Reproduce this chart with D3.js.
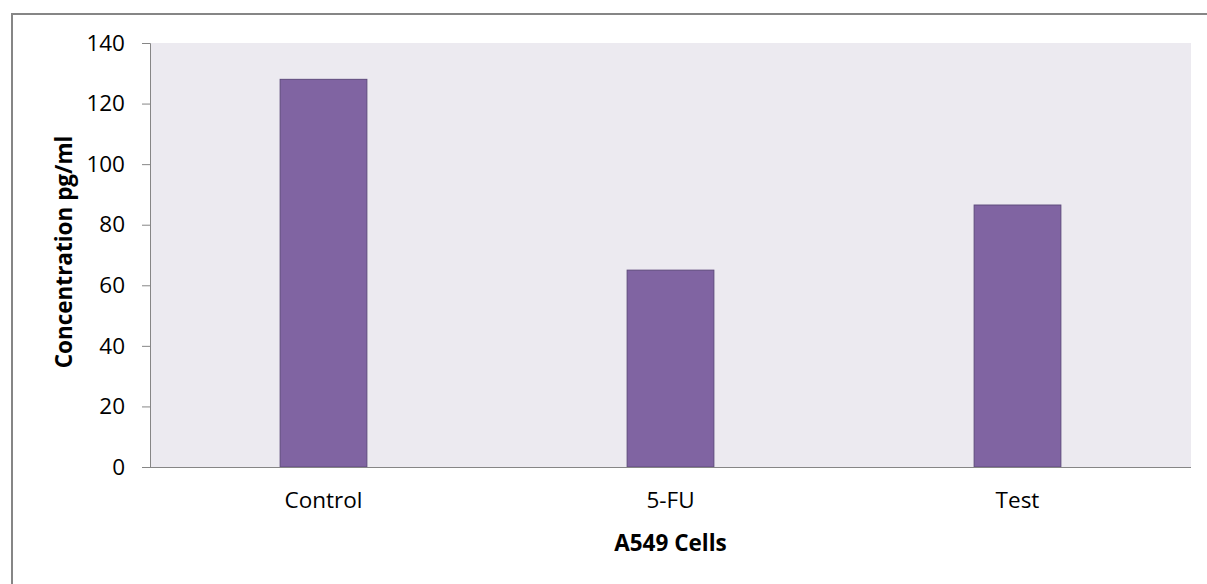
<!DOCTYPE html>
<html>
<head>
<meta charset="utf-8">
<script src="https://cdn.jsdelivr.net/npm/d3@7"></script>
<style>
  html, body { margin: 0; padding: 0; background: #fff; }
  svg { display: block; }
  text { font-family: "Open Sans", "Liberation Sans", sans-serif; fill: #000; }
</style>
</head>
<body>
<svg id="chart" width="1207" height="584"></svg>
<script>
// IL level in A549 cells per treatment group
const categories = ["Control", "5-FU", "Test"];
const concentrations = [128, 65, 86.5];
const yTicks = [0, 20, 40, 60, 80, 100, 120, 140];

const svg = d3.select("#chart");
const W = 1207, H = 584;
const plot = { left: 150, top: 43, right: 1191, bottom: 467 };
const tickFont = 22.5;
const titleFont = 22.5;

// Outer chart frame (extends past the right and bottom edges)
svg.append("rect")
  .attr("x", 12).attr("y", 14)
  .attr("width", W).attr("height", H)
  .attr("fill", "#fff")
  .attr("stroke", "#868686").attr("stroke-width", 2);

const x = d3.scaleBand()
  .domain(categories)
  .range([plot.left, plot.right])
  .paddingInner(0.75).paddingOuter(0.375);

const y = d3.scaleLinear()
  .domain([0, 140])
  .range([plot.bottom, plot.top]);

// Plot area background
svg.append("rect")
  .attr("x", plot.left).attr("y", plot.top)
  .attr("width", plot.right - plot.left).attr("height", plot.bottom - plot.top)
  .attr("fill", "#ECEAF0");

// Bars
svg.append("g").selectAll("rect")
  .data(categories.map((c, i) => ({ c, v: concentrations[i] })))
  .join("rect")
  .attr("x", d => x(d.c))
  .attr("y", d => y(d.v))
  .attr("width", x.bandwidth())
  .attr("height", d => y(0) - y(d.v))
  .attr("fill", "#8064A2")
  .attr("stroke", "#5E4A7C").attr("stroke-width", 1);

// Y axis
const yAxis = svg.append("g")
  .attr("transform", `translate(${plot.left},0)`)
  .call(d3.axisLeft(y).tickValues(yTicks).tickSize(8).tickPadding(17).tickFormat(d3.format("d")));
yAxis.attr("font-size", tickFont).attr("font-family", "'Open Sans', sans-serif");
yAxis.select(".domain").attr("stroke", "#868686");
yAxis.selectAll(".tick line").attr("stroke", "#868686");
yAxis.selectAll(".tick text").attr("fill", "#000");

// X axis
const xAxis = svg.append("g")
  .attr("transform", `translate(0,${plot.bottom})`)
  .call(d3.axisBottom(x).tickSize(0).tickPadding(25));
xAxis.attr("font-size", tickFont).attr("font-family", "'Open Sans', sans-serif");
xAxis.select(".domain").attr("stroke", "#868686")
  .attr("d", `M${plot.left - 8},0.5H${plot.right}`);
xAxis.selectAll(".tick text").attr("fill", "#000");

// Axis titles
svg.append("text")
  .attr("x", (plot.left + plot.right) / 2).attr("y", 551)
  .attr("text-anchor", "middle")
  .attr("font-size", titleFont).attr("font-weight", "bold")
  .text("A549 Cells");

svg.append("text")
  .attr("transform", `translate(72,252) rotate(-90)`)
  .attr("text-anchor", "middle")
  .attr("font-size", titleFont).attr("font-weight", "bold")
  .text("Concentration pg/ml");
</script>
</body>
</html>
